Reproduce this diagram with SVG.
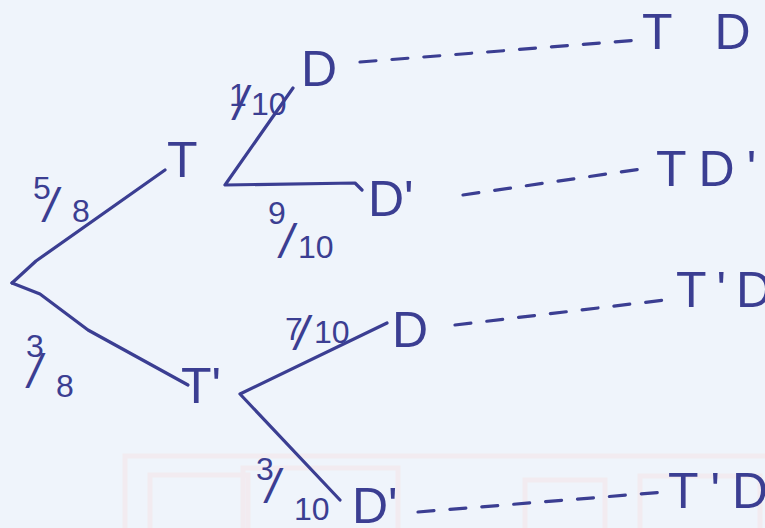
<svg xmlns="http://www.w3.org/2000/svg" width="765" height="528" viewBox="0 0 765 528">
<style>
.ink{fill:none;stroke:#3b3e92;stroke-width:3.2;stroke-linecap:round;stroke-linejoin:round}
.dash{fill:none;stroke:#3b3e92;stroke-width:3.2;stroke-linecap:round;stroke-dasharray:16 16}
.lbl{font-family:"Liberation Sans",Arial,sans-serif;fill:#3b3e92;font-size:50px}
.frac{font-family:"Liberation Sans",Arial,sans-serif;fill:#3b3e92;font-size:32px}
.sl{font-size:48px;font-style:italic}
.bg{fill:none;stroke:#f2ebf0;stroke-width:5}
</style>
<rect width="765" height="528" fill="#eff4fb"/>
<g id="background">
<rect class="bg" x="125" y="456" width="660" height="90"/>
<rect class="bg" x="150" y="475" width="98" height="70"/>
<rect class="bg" x="243" y="468" width="155" height="80"/>
<rect class="bg" x="525" y="480" width="80" height="70"/>
<rect class="bg" x="640" y="476" width="120" height="70"/>
</g>
<g id="connectors">
<path class="ink" d="M12,283 L36,261 L165,170"/>
<path class="ink" d="M12,283 L40,294 L88,330 L188,385"/>
<path class="ink" d="M293,88 L225,185 L355,183 L362,190"/>
<path class="ink" d="M387,323 L240,394 L340,500"/>
<path class="dash" d="M360,62 L640,40"/>
<path class="dash" d="M463,195 L648,168"/>
<path class="dash" d="M455,325 L665,300"/>
<path class="dash" d="M418,512 L665,492"/>
</g>
<g id="node-T"><text class="lbl" x="167" y="177">T</text></g>
<g id="node-Tp"><text class="lbl" x="181" y="403">T'</text></g>
<g id="node-D1"><text class="lbl" x="301" y="86">D</text></g>
<g id="node-Dp1"><text class="lbl" x="368" y="216">D'</text></g>
<g id="node-D2"><text class="lbl" x="392" y="347">D</text></g>
<g id="node-Dp2"><text class="lbl" x="352" y="523">D'</text></g>
<g id="node-TD"><text class="lbl" x="642" y="49" letter-spacing="42">TD</text></g>
<g id="node-TDp"><text class="lbl" x="656" y="186" letter-spacing="12">TD'</text></g>
<g id="node-TpD"><text class="lbl" x="676" y="307" letter-spacing="10">T'D</text></g>
<g id="node-TpDp"><text class="lbl" x="668" y="508" letter-spacing="12">T'D'</text></g>
<g id="labels">
<text class="frac"><tspan x="33" y="199">5</tspan><tspan class="sl" x="44" y="222">/</tspan><tspan x="72" y="222">8</tspan></text>
<text class="frac"><tspan x="26" y="357">3</tspan><tspan class="sl" x="28" y="388">/</tspan><tspan x="56" y="397">8</tspan></text>
<text class="frac"><tspan x="229" y="106">1</tspan><tspan class="sl" x="234" y="120">/</tspan><tspan x="251" y="115">10</tspan></text>
<text class="frac"><tspan x="268" y="224">9</tspan><tspan class="sl" x="280" y="258">/</tspan><tspan x="298" y="258">10</tspan></text>
<text class="frac"><tspan x="285" y="340">7</tspan><tspan class="sl" x="295" y="350">/</tspan><tspan x="314" y="343">10</tspan></text>
<text class="frac"><tspan x="256" y="480">3</tspan><tspan class="sl" x="266" y="503">/</tspan><tspan x="294" y="520">10</tspan></text>
</g>
</svg>
